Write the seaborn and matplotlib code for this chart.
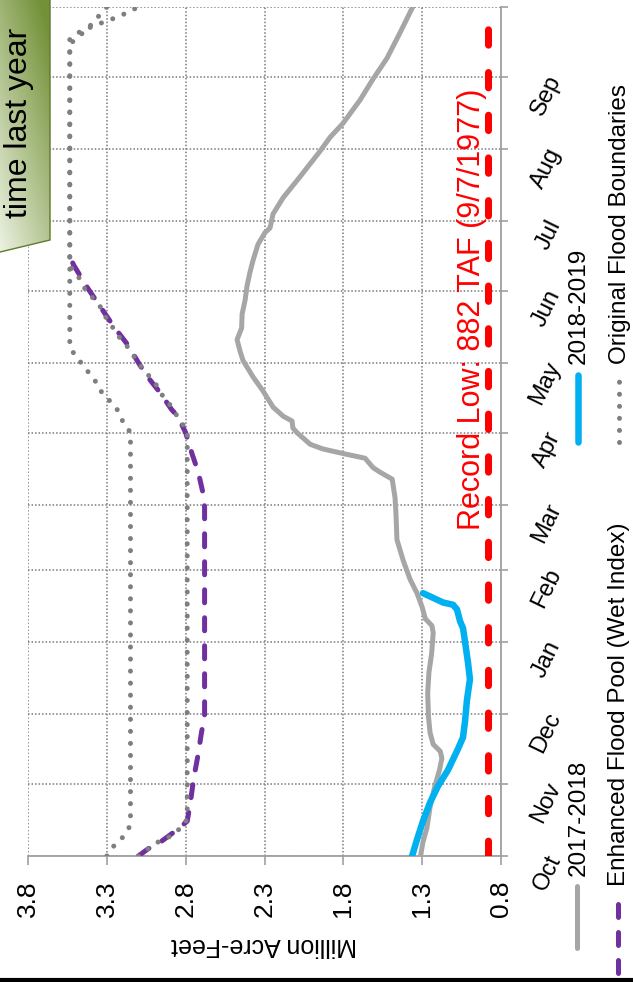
import numpy as np
import pandas as pd
import matplotlib
matplotlib.use("Agg")
import matplotlib.pyplot as plt
import seaborn as sns
from matplotlib.patches import Polygon
from matplotlib.lines import Line2D

# ---------------- data ----------------
months = ['Oct', 'Nov', 'Dec', 'Jan', 'Feb', 'Mar', 'Apr', 'May', 'Jun', 'Jul', 'Aug', 'Sep']
month_start_day = [0, 31, 61, 92, 123, 151, 182, 212, 243, 273, 304, 335, 365]
value_ticks = [0.8, 1.3, 1.8, 2.3, 2.8, 3.3, 3.8]
value_tick_labels = ['0.8', '1.3', '1.8', '2.3', '2.8', '3.3', '3.8']

wy2018_day = [0, 6, 12, 21, 30, 37, 42, 45, 48, 53, 60, 70, 79, 87, 96, 99, 102, 107, 113,
              119, 127, 136, 147, 154, 162, 165, 167, 171, 173, 175, 177, 182, 184, 187, 189,
              193, 200, 206, 213, 217, 222, 227, 233, 239, 245, 251, 256, 263, 268, 270, 276,
              283, 292, 303, 309, 315, 325, 334, 343, 354, 365]
wy2018_maf = [1.31, 1.295, 1.27, 1.25, 1.22, 1.19, 1.175, 1.185, 1.23, 1.25, 1.26, 1.265, 1.257,
              1.24, 1.23, 1.238, 1.28, 1.30, 1.333, 1.377, 1.42, 1.46, 1.466, 1.472, 1.49, 1.567,
              1.612, 1.662, 1.80, 1.93, 2.01, 2.094, 2.12, 2.125, 2.18, 2.246, 2.31, 2.373, 2.436,
              2.455, 2.474, 2.445, 2.442, 2.423, 2.411, 2.392, 2.373, 2.341, 2.297, 2.265, 2.246,
              2.182, 2.075, 1.948, 1.884, 1.802, 1.694, 1.612, 1.523, 1.440, 1.36]

wy2019_day = [0, 7, 15, 23, 30, 37, 46, 51, 58, 67, 76, 83, 92, 98, 101, 106, 108, 109, 111, 113]
wy2019_maf = [1.364, 1.333, 1.295, 1.25, 1.20, 1.136, 1.073, 1.041, 1.028, 1.016, 0.997, 1.009,
              1.028, 1.041, 1.06, 1.079, 1.104, 1.168, 1.231, 1.295]

enhanced_day = [0, 3, 6, 9, 12, 15, 23, 33, 44, 53, 60, 150, 156, 165, 173, 182, 189, 192, 199,
                205, 211, 220, 228, 236, 244, 254, 257]
enhanced_maf = [3.10, 3.04, 2.96, 2.90, 2.84, 2.79, 2.77, 2.75, 2.72, 2.70, 2.68, 2.68, 2.69, 2.72,
                2.76, 2.80, 2.85, 2.89, 2.96, 3.03, 3.09, 3.17, 3.26, 3.34, 3.42, 3.51, 3.53]

orig_upper_day = [0, 4, 8, 12, 17, 182, 187, 192, 196, 199, 203, 207, 211, 215, 219, 349, 354,
                  358, 362, 365]
orig_upper_maf = [3.30, 3.26, 3.20, 3.16, 3.15, 3.15, 3.20, 3.235, 3.286, 3.33, 3.36, 3.406, 3.45,
                  3.50, 3.535, 3.535, 3.45, 3.39, 3.34, 3.30]

orig_lower_day = [0, 3, 6, 8, 11, 14, 20, 183, 187, 192, 196, 199, 203, 207, 211, 215, 219, 223,
                  227, 232, 236, 240, 244, 249, 252, 255, 351, 354, 357, 359, 361, 363, 365]
orig_lower_maf = [3.10, 3.04, 2.975, 2.91, 2.85, 2.80, 2.79, 2.79, 2.835, 2.88, 2.92, 2.96, 2.99,
                  3.04, 3.09, 3.13, 3.17, 3.22, 3.26, 3.31, 3.34, 3.39, 3.44, 3.48, 3.52, 3.535,
                  3.535, 3.48, 3.38, 3.30, 3.22, 3.16, 3.10]

record_low = 0.882
record_label = 'Record Low: 882 TAF (9/7/1977)'
series_names = ['2017-2018', '2018-2019', 'Enhanced Flood Pool (Wet Index)', 'Original Flood Boundaries']
callout_text = 'time last year'

# ---------------- style ----------------
sns.set_theme(style='white')
plt.rcParams['font.family'] = ['Liberation Sans', 'DejaVu Sans']

W, H = 633, 982
fig = plt.figure(figsize=(W / 100, H / 100), dpi=100)
fig.patch.set_facecolor('white')
ax = fig.add_axes([28 / W, 1 - 856 / H, (501 - 28) / W, (856 - 7) / H])
ax.set_facecolor('white')

c_gray, c_blue, c_purple, c_dot, c_red = '#a6a6a6', '#00b0f0', '#7030a0', '#7f7f7f', '#ff0000'
dot_style = (0, (0.01, 2.4))
dash_purple = (0, (2.6, 3.0))

def px2pt(p):
    return p * 0.72

df18 = pd.DataFrame({'day': wy2018_day, 'maf': wy2018_maf})
df19 = pd.DataFrame({'day': wy2019_day, 'maf': wy2019_maf})
dfen = pd.DataFrame({'day': enhanced_day, 'maf': enhanced_maf})
dfu = pd.DataFrame({'day': orig_upper_day, 'maf': orig_upper_maf})
dfl = pd.DataFrame({'day': orig_lower_day, 'maf': orig_lower_maf})

common = dict(x='maf', y='day', orient='y', sort=False, estimator=None, legend=False, ax=ax)
sns.lineplot(data=df18, color=c_gray, lw=px2pt(5), solid_capstyle='round', zorder=3, **common)
sns.lineplot(data=df19, color=c_blue, lw=px2pt(6.5), solid_capstyle='round', zorder=4, **common)
sns.lineplot(data=dfen, color=c_purple, lw=px2pt(5), linestyle=dash_purple,
             dash_capstyle='round', zorder=5, **common)
sns.lineplot(data=dfu, color=c_dot, lw=px2pt(5), linestyle=dot_style,
             dash_capstyle='round', zorder=6, **common)
sns.lineplot(data=dfl, color=c_dot, lw=px2pt(5), linestyle=dot_style,
             dash_capstyle='round', zorder=6, **common)
ax.axvline(record_low, color=c_red, lw=px2pt(7), linestyle=(0, (2.2, 3.9)),
           dash_capstyle='round', zorder=7)
ax.text(0.933, 140, record_label, rotation=90, rotation_mode='anchor', ha='left',
        va='baseline', color=c_red, fontsize=22, zorder=8)

ax.set_xlim(3.8, 0.8)
ax.set_ylim(0, 365)
ax.set_xticks(value_ticks)
ax.set_xticklabels(value_tick_labels, rotation=90, fontsize=19)
ax.set_yticks(month_start_day)
ax.yaxis.tick_right()
ax.set_yticklabels(months + [''], rotation=64, rotation_mode='anchor', ha='right',
                   va='center', fontsize=17)
ax.tick_params(axis='x', direction='out', length=6.5, width=1.2, color='#a0a0a0', pad=11,
               bottom=True, labelcolor='black')
ax.tick_params(axis='y', direction='out', length=5, width=1.2, color='#a0a0a0', pad=34,
               right=True, left=False, labelcolor='black')
ax.set_xlabel('')
ax.set_ylabel('')
ax.grid(True, color='#7a7a7a', linestyle=(0, (1, 1.3)), linewidth=1.1)
ax.set_axisbelow(True)
for s in ['top', 'left']:
    ax.spines[s].set_visible(False)
for s in ['bottom', 'right']:
    ax.spines[s].set_color('#a0a0a0')
    ax.spines[s].set_linewidth(1.3)

fig.text(264.5 / W, 1 - 945 / H, 'Million Acre-Feet', rotation=180, ha='center', va='center',
         fontsize=18, color='black')

# ---------------- legend (rotated) ----------------
def fx(x):
    return x / W

def fy(y):
    return 1 - y / H

fig.add_artist(Line2D([fx(577), fx(577)], [fy(948), fy(886)], transform=fig.transFigure,
                      color=c_gray, lw=px2pt(5), solid_capstyle='round'))
fig.add_artist(Line2D([fx(578), fx(578)], [fy(442), fy(375)], transform=fig.transFigure,
                      color=c_blue, lw=px2pt(6.5), solid_capstyle='round'))
fig.add_artist(Line2D([fx(618), fx(618)], [fy(973), fy(893)], transform=fig.transFigure,
                      color=c_purple, lw=px2pt(5), linestyle=dash_purple, dash_capstyle='round'))
fig.add_artist(Line2D([fx(619), fx(619)], [fy(442), fy(378)], transform=fig.transFigure,
                      color=c_dot, lw=px2pt(5), linestyle=dot_style, dash_capstyle='round'))
leg_pos = [(579, 876), (579, 364), (619, 886), (620, 364)]
for name, (lx, ly) in zip(series_names, leg_pos):
    fig.text(fx(lx), fy(ly), name, rotation=90, rotation_mode='anchor', ha='left', va='center',
             fontsize=17.5, color='black')

# ---------------- callout box ----------------
bax = fig.add_axes([0, 1 - 256 / H, 52 / W, 256 / H])
bax.set_xlim(0, 52)
bax.set_ylim(256, 0)
bax.axis('off')
gx, gy = np.meshgrid(np.linspace(0, 1, 60), np.linspace(0, 1, 260))
t = np.clip(0.45 * gx + 0.65 * (1 - gy), 0, 1)
light = np.array([0.93, 0.95, 0.89])
dark = np.array([0.45, 0.57, 0.22])
img = light[None, None, :] * (1 - t[..., None]) + dark[None, None, :] * t[..., None]
im = bax.imshow(img, extent=[0, 52, 256, 0], aspect='auto', zorder=1)
poly = Polygon([(-2, -2), (50, -2), (50, 240), (-2, 252.5)], closed=True,
               transform=bax.transData, facecolor='none', edgecolor='#5f7a2a', lw=1.0, zorder=2)
bax.add_patch(poly)
im.set_clip_path(poly)
bax.text(27, 218, callout_text, rotation=90, rotation_mode='anchor', ha='left', va='baseline',
         fontsize=23, color='black', zorder=3)

# bottom border
fig.add_artist(Line2D([0, 1], [2.5 / H, 2.5 / H], transform=fig.transFigure, color='black', lw=3))

fig.savefig('out.png', dpi=100)
